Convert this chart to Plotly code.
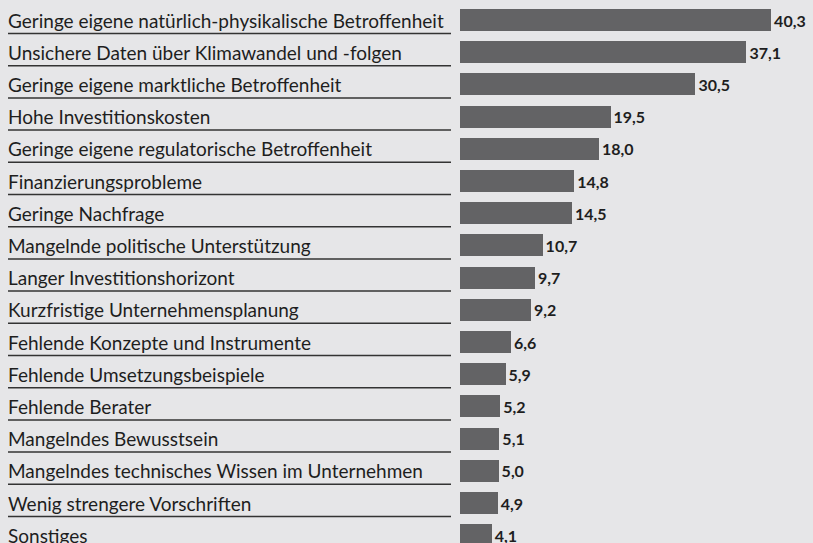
import plotly.graph_objects as go

categories = [
    "Geringe eigene natürlich-physikalische Betroffenheit",
    "Unsichere Daten über Klimawandel und -folgen",
    "Geringe eigene marktliche Betroffenheit",
    "Hohe Investitionskosten",
    "Geringe eigene regulatorische Betroffenheit",
    "Finanzierungsprobleme",
    "Geringe Nachfrage",
    "Mangelnde politische Unterstützung",
    "Langer Investitionshorizont",
    "Kurzfristige Unternehmensplanung",
    "Fehlende Konzepte und Instrumente",
    "Fehlende Umsetzungsbeispiele",
    "Fehlende Berater",
    "Mangelndes Bewusstsein",
    "Mangelndes technisches Wissen im Unternehmen",
    "Wenig strengere Vorschriften",
    "Sonstiges",
]
values = [40.3, 37.1, 30.5, 19.5, 18.0, 14.8, 14.5, 10.7, 9.7, 9.2, 6.6, 5.9, 5.2, 5.1, 5.0, 4.9, 4.1]

W, H = 813, 543
bg = "#e6e6e8"
bar_color = "#636365"
x0_px = 460
px_per_unit = 7.72
row = 32.2
first_center = 20

idx = list(range(len(categories)))
labels = [f"{v:.1f}".replace(".", ",") for v in values]

fig = go.Figure()
fig.add_trace(go.Bar(
    x=values, y=idx, orientation="h",
    marker=dict(color=bar_color, line=dict(width=0)),
    width=22 / row,
    text=labels, textposition="outside",
    textfont=dict(family="Lato", size=16, color="#1e1e1e", weight="bold"),
    cliponaxis=False,
    hoverinfo="skip",
))

annotations = []
shapes = []
for i, c in enumerate(categories):
    annotations.append(dict(
        x=6 / W, xref="paper", y=i, yref="y",
        text=c, showarrow=False, xanchor="left", yanchor="middle",
        font=dict(family="Lato", size=19, color="#1e1e1e"),
    ))
    if i < len(categories) - 1:
        shapes.append(dict(
            type="line", xref="paper", yref="y",
            x0=8 / W, x1=451 / W, y0=i + 0.42, y1=i + 0.42,
            line=dict(color="#333333", width=1.5),
        ))

fig.update_layout(
    width=W, height=H,
    margin=dict(l=0, r=0, t=0, b=0),
    paper_bgcolor=bg, plot_bgcolor=bg,
    showlegend=False,
    annotations=annotations,
    shapes=shapes,
    bargap=0,
    xaxis=dict(domain=[x0_px / W, 1], range=[0, (W - x0_px) / px_per_unit],
               visible=False, fixedrange=True),
    yaxis=dict(range=[(H - first_center) / row, -first_center / row],
               visible=False, fixedrange=True),
)

fig.write_html(
    "out.html",
    config={"displayModeBar": False, "staticPlot": True},
    post_script="document.body.style.margin='0';document.body.style.overflow='hidden';",
)
